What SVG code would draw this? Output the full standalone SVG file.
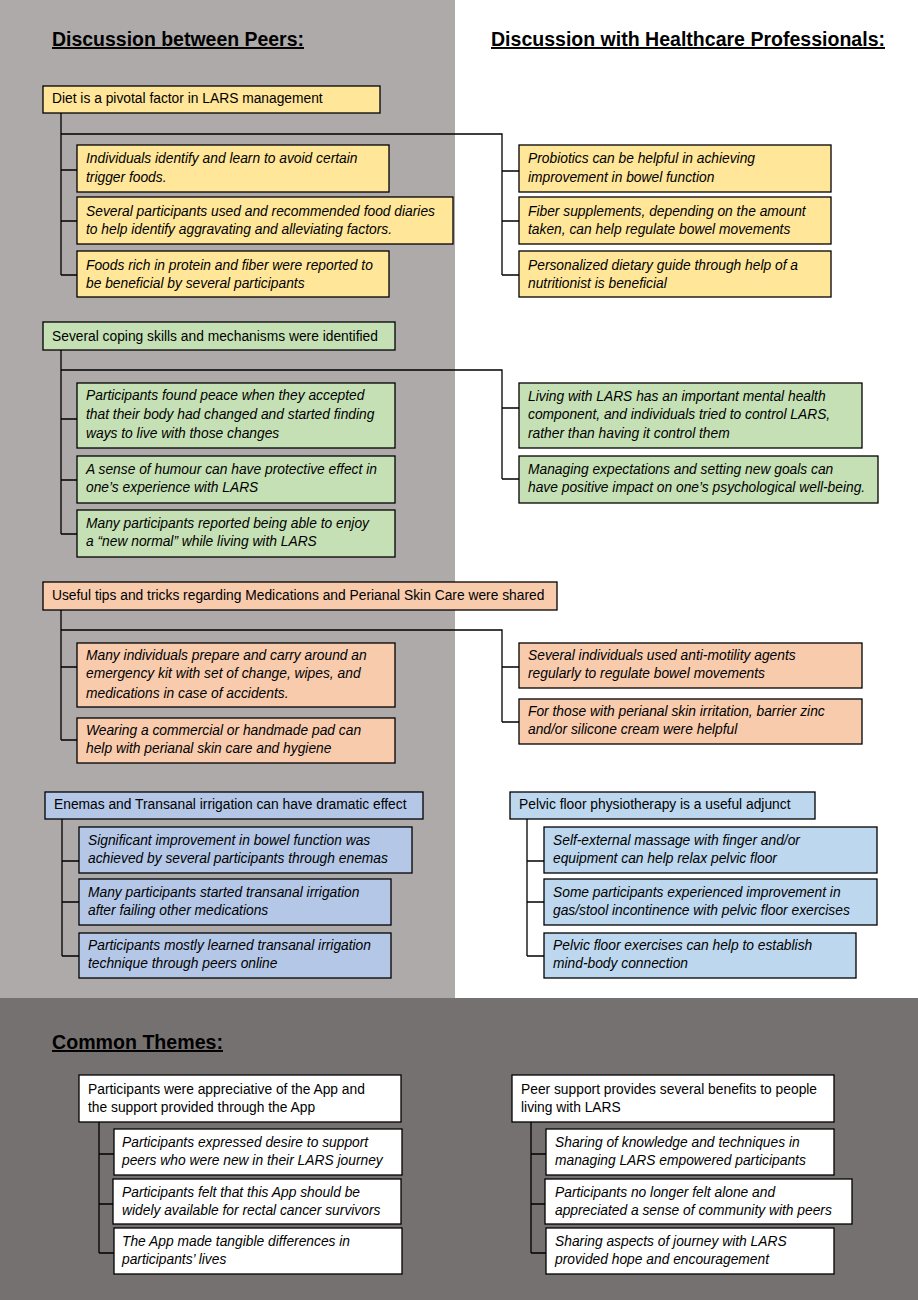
<svg xmlns="http://www.w3.org/2000/svg" width="918" height="1300" viewBox="0 0 918 1300">
<style>
.bx{stroke:#000;stroke-width:1.3}
.y{fill:#FFE699}.g{fill:#C5E0B4}.o{fill:#F8CBAD}.b1{fill:#B4C7E7}.b2{fill:#BDD7EE}.w{fill:#FFFFFF}
text{font-family:"Liberation Sans",Arial,sans-serif;font-size:13.8px;fill:#000}
.i{font-style:italic}
.t{font-weight:bold;font-size:19.5px;text-decoration:underline}
.c{fill:none;stroke:#000;stroke-width:1.3}
</style>
<rect x="0" y="0" width="918" height="1300" fill="#FFFFFF"/>
<rect x="0" y="0" width="455" height="998" fill="#AEAAAA"/>
<rect x="0" y="998" width="918" height="302" fill="#767171"/>

<g id="titles">
<text class="t" x="52" y="46" textLength="252" lengthAdjust="spacingAndGlyphs">Discussion between Peers:</text>
<text class="t" x="491" y="46" textLength="394" lengthAdjust="spacingAndGlyphs">Discussion with Healthcare Professionals:</text>
<text class="t" x="52" y="1049" textLength="171" lengthAdjust="spacingAndGlyphs">Common Themes:</text>
</g>

<g id="connectors">
<path class="c" d="M61 113V275M61 170H77M61 221H77M61 275H77M61 134H502V275M502 171H519M502 221H519M502 275H519"/>
<path class="c" d="M61 350V534M61 419H77M61 480H77M61 534H77M61 370H502V479M502 408H519M502 479H519"/>
<path class="c" d="M61 610V740M61 667H77M61 740H77M61 630H502V722M502 667H519M502 722H519"/>
<path class="c" d="M62 819V956M62 861H79M62 902H79M62 956H79"/>
<path class="c" d="M527 819V956M527 861H544M527 902H544M527 956H544"/>
<path class="c" d="M99 1122V1253M99 1154H114M99 1204H113M99 1253H114"/>
<path class="c" d="M531 1122V1253M531 1154H546M531 1204H545M531 1253H546"/>
</g>

<g id="diet">
<rect class="bx y" x="43" y="86" width="337" height="27"/>
<text x="52" y="103">Diet is a pivotal factor in LARS management</text>
</g>
<g id="diet-p1">
<rect class="bx y" x="77" y="145" width="312" height="47"/>
<text class="i" x="86" y="163">Individuals identify and learn to avoid certain</text>
<text class="i" x="86" y="182">trigger foods.</text>
</g>
<g id="diet-p2">
<rect class="bx y" x="77" y="197" width="376" height="47"/>
<text class="i" x="86" y="216">Several participants used and recommended food diaries</text>
<text class="i" x="86" y="234">to help identify aggravating and alleviating factors.</text>
</g>
<g id="diet-p3">
<rect class="bx y" x="77" y="251" width="312" height="46"/>
<text class="i" x="86" y="270">Foods rich in protein and fiber were reported to</text>
<text class="i" x="86" y="288">be beneficial by several participants</text>
</g>
<g id="diet-h1">
<rect class="bx y" x="519" y="145" width="312" height="47"/>
<text class="i" x="528" y="163">Probiotics can be helpful in achieving</text>
<text class="i" x="528" y="182">improvement in bowel function</text>
</g>
<g id="diet-h2">
<rect class="bx y" x="519" y="197" width="312" height="47"/>
<text class="i" x="528" y="216">Fiber supplements, depending on the amount</text>
<text class="i" x="528" y="234">taken, can help regulate bowel movements</text>
</g>
<g id="diet-h3">
<rect class="bx y" x="519" y="251" width="312" height="46"/>
<text class="i" x="528" y="270">Personalized dietary guide through help of a</text>
<text class="i" x="528" y="288">nutritionist is beneficial</text>
</g>

<g id="coping">
<rect class="bx g" x="43" y="322" width="352" height="28"/>
<text x="52" y="341">Several coping skills and mechanisms were identified</text>
</g>
<g id="coping-p1">
<rect class="bx g" x="77" y="383" width="318" height="65"/>
<text class="i" x="86" y="400">Participants found peace when they accepted</text>
<text class="i" x="86" y="419">that their body had changed and started finding</text>
<text class="i" x="86" y="438">ways to live with those changes</text>
</g>
<g id="coping-p2">
<rect class="bx g" x="77" y="456" width="318" height="47"/>
<text class="i" x="86" y="474">A sense of humour can have protective effect in</text>
<text class="i" x="86" y="492">one’s experience with LARS</text>
</g>
<g id="coping-p3">
<rect class="bx g" x="77" y="510" width="318" height="47"/>
<text class="i" x="86" y="528">Many participants reported being able to enjoy</text>
<text class="i" x="86" y="546">a “new normal” while living with LARS</text>
</g>
<g id="coping-h1">
<rect class="bx g" x="519" y="383" width="343" height="65"/>
<text class="i" x="528" y="401">Living with LARS has an important mental health</text>
<text class="i" x="528" y="419">component, and individuals tried to control LARS,</text>
<text class="i" x="528" y="438">rather than having it control them</text>
</g>
<g id="coping-h2">
<rect class="bx g" x="519" y="456" width="359" height="47"/>
<text class="i" x="528" y="474">Managing expectations and setting new goals can</text>
<text class="i" x="528" y="492">have positive impact on one’s psychological well-being.</text>
</g>

<g id="meds">
<rect class="bx o" x="43" y="582" width="514" height="28"/>
<text x="52" y="600">Useful tips and tricks regarding Medications and Perianal Skin Care were shared</text>
</g>
<g id="meds-p1">
<rect class="bx o" x="77" y="643" width="318" height="64"/>
<text class="i" x="86" y="660">Many individuals prepare and carry around an</text>
<text class="i" x="86" y="678">emergency kit with set of change, wipes, and</text>
<text class="i" x="86" y="698">medications in case of accidents.</text>
</g>
<g id="meds-p2">
<rect class="bx o" x="77" y="718" width="318" height="45"/>
<text class="i" x="86" y="735">Wearing a commercial or handmade pad can</text>
<text class="i" x="86" y="753">help with perianal skin care and hygiene</text>
</g>
<g id="meds-h1">
<rect class="bx o" x="519" y="643" width="343" height="45"/>
<text class="i" x="528" y="660">Several individuals used anti-motility agents</text>
<text class="i" x="528" y="678">regularly to regulate bowel movements</text>
</g>
<g id="meds-h2">
<rect class="bx o" x="519" y="699" width="343" height="45"/>
<text class="i" x="528" y="716">For those with perianal skin irritation, barrier zinc</text>
<text class="i" x="528" y="734">and/or silicone cream were helpful</text>
</g>

<g id="enemas">
<rect class="bx b1" x="45" y="792" width="378" height="27"/>
<text x="54" y="809">Enemas and Transanal irrigation can have dramatic effect</text>
</g>
<g id="enemas-1">
<rect class="bx b1" x="79" y="827" width="333" height="46"/>
<text class="i" x="88" y="845">Significant improvement in bowel function was</text>
<text class="i" x="88" y="863">achieved by several participants through enemas</text>
</g>
<g id="enemas-2">
<rect class="bx b1" x="79" y="879" width="312" height="46"/>
<text class="i" x="88" y="897">Many participants started transanal irrigation</text>
<text class="i" x="88" y="915">after failing other medications</text>
</g>
<g id="enemas-3">
<rect class="bx b1" x="79" y="933" width="312" height="45"/>
<text class="i" x="88" y="950">Participants mostly learned transanal irrigation</text>
<text class="i" x="88" y="968">technique through peers online</text>
</g>

<g id="pelvic">
<rect class="bx b2" x="510" y="792" width="305" height="27"/>
<text x="519" y="809">Pelvic floor physiotherapy is a useful adjunct</text>
</g>
<g id="pelvic-1">
<rect class="bx b2" x="544" y="827" width="333" height="46"/>
<text class="i" x="553" y="845">Self-external massage with finger and/or</text>
<text class="i" x="553" y="863">equipment can help relax pelvic floor</text>
</g>
<g id="pelvic-2">
<rect class="bx b2" x="544" y="879" width="333" height="46"/>
<text class="i" x="553" y="897">Some participants experienced improvement in</text>
<text class="i" x="553" y="915">gas/stool incontinence with pelvic floor exercises</text>
</g>
<g id="pelvic-3">
<rect class="bx b2" x="544" y="933" width="312" height="45"/>
<text class="i" x="553" y="950">Pelvic floor exercises can help to establish</text>
<text class="i" x="553" y="968">mind-body connection</text>
</g>

<g id="app">
<rect class="bx w" x="79" y="1075" width="322" height="47"/>
<text x="88" y="1094">Participants were appreciative of the App and</text>
<text x="88" y="1112">the support provided through the App</text>
</g>
<g id="app-1">
<rect class="bx w" x="114" y="1129" width="288" height="46"/>
<text class="i" x="122" y="1147">Participants expressed desire to support</text>
<text class="i" x="122" y="1165">peers who were new in their LARS journey</text>
</g>
<g id="app-2">
<rect class="bx w" x="113" y="1179" width="288" height="45"/>
<text class="i" x="122" y="1197">Participants felt that this App should be</text>
<text class="i" x="122" y="1215">widely available for rectal cancer survivors</text>
</g>
<g id="app-3">
<rect class="bx w" x="114" y="1228" width="288" height="46"/>
<text class="i" x="122" y="1246">The App made tangible differences in</text>
<text class="i" x="122" y="1264">participants’ lives</text>
</g>

<g id="peer">
<rect class="bx w" x="512" y="1075" width="322" height="47"/>
<text x="521" y="1094">Peer support provides several benefits to people</text>
<text x="521" y="1112">living with LARS</text>
</g>
<g id="peer-1">
<rect class="bx w" x="546" y="1129" width="288" height="46"/>
<text class="i" x="555" y="1147">Sharing of knowledge and techniques in</text>
<text class="i" x="555" y="1165">managing LARS empowered participants</text>
</g>
<g id="peer-2">
<rect class="bx w" x="545" y="1179" width="307" height="45"/>
<text class="i" x="555" y="1197">Participants no longer felt alone and</text>
<text class="i" x="555" y="1215">appreciated a sense of community with peers</text>
</g>
<g id="peer-3">
<rect class="bx w" x="546" y="1228" width="288" height="46"/>
<text class="i" x="555" y="1246">Sharing aspects of journey with LARS</text>
<text class="i" x="555" y="1264">provided hope and encouragement</text>
</g>
</svg>
